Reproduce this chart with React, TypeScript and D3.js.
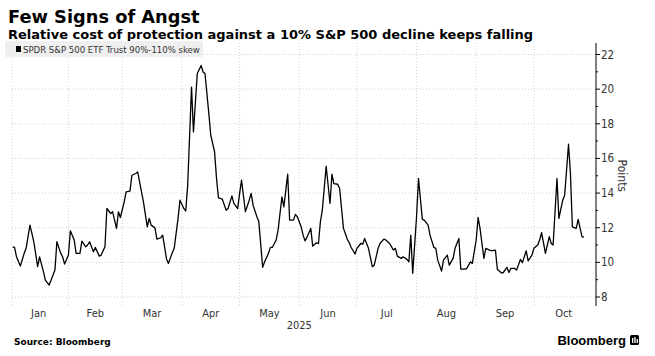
import React from "react";
import * as d3 from "d3";

const TITLE = "Few Signs of Angst";
const SUBTITLE = "Relative cost of protection against a 10% S&P 500 decline keeps falling";
const SERIES_NAME = "SPDR S&P 500 ETF Trust 90%-110% skew";
const SOURCE = "Source: Bloomberg";
const Y_LABEL = "Points";
const YEAR_LABEL = "2025";

// Day offsets from 2025-01-01
const DAYS = [
  2, 3, 4, 6, 8, 9, 11, 12, 13, 15,
  16, 18, 19, 21, 22, 24, 25, 27, 28, 29,
  31, 32, 34, 35, 37, 38, 40, 41, 42, 44,
  45, 47, 48, 50, 51, 53, 54, 56, 57, 58,
  60, 61, 63, 64, 66, 67, 69, 70, 72, 73,
  74, 76, 77, 79, 80, 82, 83, 85, 86, 88,
  89, 91, 92, 93, 95, 96, 98, 100, 101, 102,
  104, 105, 107, 108, 109, 111, 113, 114, 116, 117,
  119, 120, 121, 123, 125, 126, 127, 129, 130, 132,
  133, 135, 136, 137, 139, 140, 142, 143, 145, 146,
  148, 149, 150, 152, 153, 154, 155, 157, 158, 160,
  161, 162, 163, 165, 167, 168, 169, 171, 172, 174,
  176, 177, 178, 180, 181, 183, 184, 185, 187, 189,
  190, 192, 193, 195, 196, 198, 200, 201, 202, 204,
  205, 207, 208, 209, 210, 212, 213, 215, 216, 218,
  219, 221, 222, 223, 225, 226, 228, 229, 231, 232,
  234, 235, 236, 238, 240, 241, 243, 244, 245, 247,
  248, 250, 251, 253, 254, 256, 257, 259, 260, 261,
  263, 264, 266, 267, 269, 270, 272, 273, 275, 276,
  277, 279, 281, 282, 283, 285, 286, 288, 289, 291,
  292, 293, 295, 296, 298, 299,
];

const VALUES = [
  10.9, 10.86, 10.32, 9.79, 10.52, 10.81, 12.15, 11.67, 11.19, 9.75,
  10.32, 9.46, 8.98, 8.69, 8.98, 9.56, 11.19, 10.52, 10.32, 9.9,
  10.42, 11.82, 11.29, 10.52, 10.52, 11.23, 10.9, 11.0, 11.19, 10.61,
  10.86, 10.36, 10.42, 10.9, 13.11, 12.82, 12.92, 11.96, 12.92, 12.59,
  13.49, 14.07, 14.11, 15.03, 15.13, 15.22, 14.07, 13.49, 12.05, 12.54,
  12.15, 11.99, 11.34, 11.42, 11.57, 10.2, 9.94, 10.55, 10.81, 12.54,
  13.59, 13.11, 12.96, 14.46, 20.12, 17.53, 20.9, 21.37, 20.99, 20.9,
  18.59, 17.34, 16.37, 14.84, 13.72, 13.65, 13.01, 13.11, 13.84, 13.4,
  13.11, 13.98, 14.74, 12.92, 13.59, 13.98, 13.3, 12.63, 12.34, 9.71,
  10.03, 10.52, 10.86, 10.86, 11.29, 11.86, 13.78, 13.2, 15.09, 12.44,
  12.44, 12.77, 12.63, 12.05, 11.57, 11.24, 11.44, 11.96, 10.94, 11.13,
  11.09, 12.34, 13.01, 15.55, 13.4, 15.09, 14.55, 14.51, 14.26, 11.96,
  11.33, 11.13, 10.86, 10.48, 10.81, 11.09, 11.05, 11.38, 10.81, 9.75,
  9.84, 10.81, 11.09, 11.34, 11.29, 11.09, 10.71, 10.81, 10.36, 10.23,
  10.32, 10.17, 10.03, 11.57, 9.37, 12.63, 14.84, 12.48, 12.44, 12.15,
  11.57, 10.86, 10.81, 10.13, 9.5, 10.13, 10.42, 9.84, 10.23, 10.81,
  11.38, 9.61, 9.61, 9.63, 10.03, 9.94, 11.29, 12.59, 11.96, 10.23,
  10.81, 10.71, 10.67, 10.71, 9.6, 9.4, 9.4, 9.71, 9.42, 9.65,
  9.65, 9.56, 10.17, 9.98, 10.67, 10.09, 10.42, 10.81, 11.0, 11.29,
  11.71, 10.52, 11.48, 11.09, 11.0, 14.84, 12.54, 13.59, 13.88, 16.82,
  15.13, 12.05, 11.96, 12.48, 11.48, 11.44,
];

const Y_TICKS = [8, 10, 12, 14, 16, 18, 20, 22];
const Y_MINOR = [9, 11, 13, 15, 17, 19, 21];
const MONTH_LABELS = ["Jan", "Feb", "Mar", "Apr", "May", "Jun", "Jul", "Aug", "Sep", "Oct"];

const W = 655;
const H = 356;
const PLOT_LEFT = 12;
const AXIS_X = 596;
const PLOT_TOP = 43;
const PLOT_BOTTOM = 306;

const NARROW = "'Liberation Sans Narrow', 'DejaVu Sans Condensed', 'Roboto Condensed', 'Arial Narrow', sans-serif";
const HEAVY = "'DejaVu Sans', Verdana, sans-serif";
const BOLD = "'Liberation Sans', Arial, 'DejaVu Sans', sans-serif";

export default function App() {
  const start = new Date(2025, 0, 1);
  const x = d3
    .scaleTime()
    .domain([start, d3.timeHour.offset(new Date(2025, 10, 2), 7)])
    .range([8.8, AXIS_X]);
  const y = d3.scaleLinear().domain([8, 22]).range([297, 54.5]);

  const data = DAYS.map((d, i) => ({ date: d3.timeDay.offset(start, d), v: VALUES[i] }));
  const line = d3
    .line<{ date: Date; v: number }>()
    .x((d) => x(d.date))
    .y((d) => y(d.v));

  const monthStarts = d3.timeMonth.range(new Date(2025, 0, 1), new Date(2025, 11, 1));
  const gridMonths = monthStarts.slice(1, 10);
  const monthMids = MONTH_LABELS.map((m, i) => {
    const a = x(monthStarts[i]);
    const b = x(monthStarts[i + 1]);
    return { m, cx: (a + b) / 2 };
  });

  const gridColor = "#cfcfcf";

  return (
    <svg
      width={W}
      height={H}
      style={{ position: "absolute", left: 0, top: 0, background: "#fff" }}
    >
      <text x={8} y={23} fontFamily={HEAVY} fontWeight={700} fontSize={17.8} fill="#000">
        {TITLE}
      </text>
      <text x={8} y={39} fontFamily={HEAVY} fontWeight={700} fontSize={13} fill="#000">
        {SUBTITLE}
      </text>

      {/* horizontal grid */}
      {Y_TICKS.map((t) => (
        <line
          key={"h" + t}
          x1={PLOT_LEFT}
          x2={AXIS_X}
          y1={y(t)}
          y2={y(t)}
          stroke={gridColor}
          strokeWidth={1}
          strokeDasharray="1,2"
        />
      ))}
      {/* vertical grid */}
      <line x1={PLOT_LEFT} x2={PLOT_LEFT} y1={PLOT_TOP} y2={PLOT_BOTTOM} stroke={gridColor} strokeDasharray="1,2" />
      {gridMonths.map((d, i) => (
        <line
          key={"v" + i}
          x1={x(d)}
          x2={x(d)}
          y1={PLOT_TOP}
          y2={PLOT_BOTTOM}
          stroke={gridColor}
          strokeWidth={1}
          strokeDasharray="1,2"
        />
      ))}

      {/* legend */}
      <rect x={5} y={41} width={198} height={16} fill="#efefef" />
      <rect x={16} y={46} width={5} height={6} fill="#000" />
      <text x={23} y={52.5} fontFamily={NARROW} fontSize={9.5} fill="#333">
        {SERIES_NAME}
      </text>

      {/* series line */}
      <path d={line(data) || ""} fill="none" stroke="#000" strokeWidth={1.3} strokeLinejoin="round" />

      {/* y axis */}
      <line x1={AXIS_X} x2={AXIS_X} y1={PLOT_TOP} y2={PLOT_BOTTOM} stroke="#000" strokeWidth={1} />
      {Y_TICKS.map((t) => (
        <g key={"yt" + t}>
          <line x1={AXIS_X} x2={AXIS_X + 4} y1={y(t)} y2={y(t)} stroke="#000" />
          <text x={AXIS_X + 5} y={y(t) + 4} fontFamily={NARROW} fontSize={11.5} fill="#333">
            {t}
          </text>
        </g>
      ))}
      {Y_MINOR.map((t) => (
        <line key={"ym" + t} x1={AXIS_X} x2={AXIS_X + 2} y1={y(t)} y2={y(t)} stroke="#000" />
      ))}
      <text
        transform={`translate(618,${y(15).toFixed(1)}) rotate(90)`}
        textAnchor="middle"
        fontFamily={NARROW}
        fontSize={12}
        fill="#333"
      >
        {Y_LABEL}
      </text>

      {/* x labels */}
      {monthMids.map(({ m, cx }) => (
        <text key={m} x={cx} y={317} textAnchor="middle" fontFamily={NARROW} fontSize={11} fill="#333">
          {m}
        </text>
      ))}
      <text x={x(new Date(2025, 5, 1))} y={329} textAnchor="middle" fontFamily={NARROW} fontSize={11} fill="#333">
        {YEAR_LABEL}
      </text>

      {/* footer */}
      <text x={14} y={345} fontFamily={HEAVY} fontWeight={700} fontSize={9} fill="#000">
        {SOURCE}
      </text>
      <text x={626} y={345} textAnchor="end" fontFamily={BOLD} fontWeight={700} fontSize={13} fill="#000">
        Bloomberg
      </text>
      <rect x={630} y={335} width={9} height={10} rx={1.5} fill="#000" />
      <rect x={632} y={338} width={1.3} height={5} fill="#fff" />
      <rect x={634.3} y={337} width={1.3} height={6} fill="#fff" />
      <rect x={636.6} y={339} width={1.3} height={4} fill="#fff" />
    </svg>
  );
}
